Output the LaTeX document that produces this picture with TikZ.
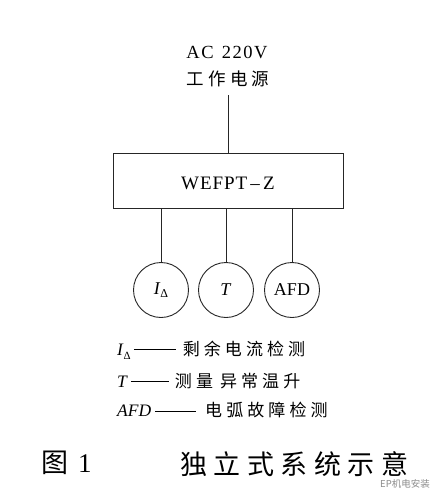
\documentclass[tikz,border=0pt]{standalone}
\usepackage{fontspec}
\setmainfont{Liberation Serif}
\newfontfamily\cjk{Noto Sans CJK SC}
\begin{document}
\begin{tikzpicture}[x=1pt,y=-1pt,
  wire/.style={line width=0.9pt,draw=black!85},
  devbox/.style={draw=black!85,line width=0.9pt,minimum width=230pt,minimum height=55pt,inner sep=0pt},
  sensor/.style={circle,draw=black!85,line width=0.9pt,minimum size=55pt,inner sep=0pt,font=\fontsize{18}{20}\selectfont},
  legend/.style={anchor=west,inner sep=0pt,font=\fontsize{17.5}{18}\selectfont},
  cjkt/.style={font=\fontsize{#1}{#1}\cjk\addfontfeature{LetterSpace=24}}
]
\useasboundingbox (0,0) rectangle (446,498);
\fill[white] (0,0) rectangle (446,498);

\node[inner sep=0pt,font=\fontsize{18.5}{20}\selectfont\addfontfeature{LetterSpace=8}] (ac) at (227,52) {AC\hspace{0.45em}220V};
\node[inner sep=0pt,cjkt=17.5] (pw) at (228,79) {工作电源};

\node[devbox] (box) at (228,180.5) {};
\node[inner sep=0pt,font=\fontsize{19}{20}\selectfont\addfontfeature{LetterSpace=5}] (boxlbl) at (228,183) {WEFPT\,–\,Z};

\node[sensor] (ci) at (161,290) {\textit{I}\raisebox{-0.45ex}{\fontsize{12}{12}\selectfont Δ}};
\node[sensor] (ct) at (226,290) {\textit{T}};
\node[sensor] (ca) at (292,290) {AFD};

\draw[wire] (pw.south) ++(0,8) coordinate (pwb);
\draw[wire] (box.north) -- (pwb);
\draw[wire] (ci.north |- box.south) -- (ci.north);
\draw[wire] (ct.north |- box.south) -- (ct.north);
\draw[wire] (ca.north |- box.south) -- (ca.north);

\node[legend] (l1) at (117,350) {\textit{I}\raisebox{-0.5ex}{\fontsize{11}{11}\selectfont Δ}\hspace{3pt}\rule[0.3em]{42pt}{0.7pt}\hspace{7pt}{\fontsize{17}{17}\cjk\addfontfeature{LetterSpace=24}剩余电流检测}};
\node[legend] (l2) at (117,381) {\textit{T}\hspace{3pt}\rule[0.3em]{38pt}{0.7pt}\hspace{6pt}{\fontsize{17}{17}\cjk\addfontfeature{LetterSpace=24}测量\hspace{7pt}异常温升}};
\node[legend] (l3) at (117,410) {\textit{AFD}\hspace{4pt}\rule[0.3em]{41pt}{0.7pt}\hspace{9pt}{\fontsize{17}{17}\cjk\addfontfeature{LetterSpace=24}电弧故障检测}};

\node[anchor=west,inner sep=0pt] (fig) at (41,463) {{\fontsize{27}{27}\cjk 图}\hspace{10pt}{\fontsize{27}{27}\selectfont 1}};
\node[anchor=west,inner sep=0pt,cjkt=27] (cap) at (180,464) {独立式系统示意};

\node[anchor=west,inner sep=0pt,text=black!45,font=\fontsize{9.5}{10}\cjk] (wm) at (380,484) {EP机电安装};
\end{tikzpicture}
\end{document}
